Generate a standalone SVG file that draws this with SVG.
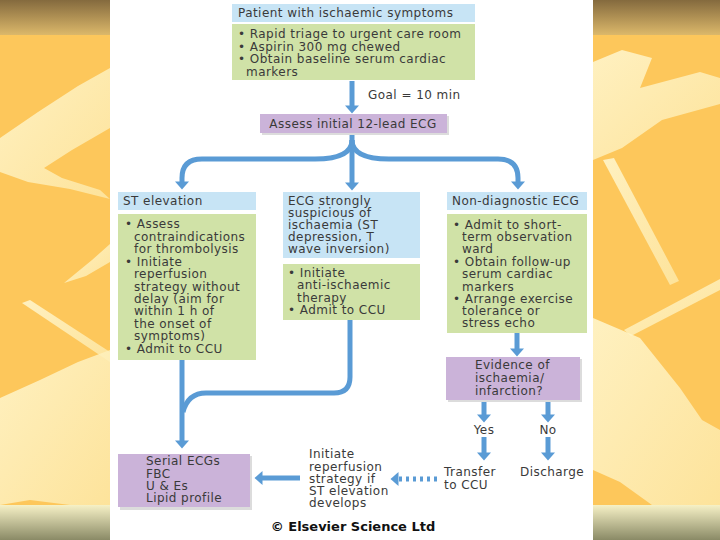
<svg xmlns="http://www.w3.org/2000/svg" width="720" height="540" viewBox="0 0 720 540">
<defs>
<linearGradient id="topBand" x1="0" y1="0" x2="0" y2="1"><stop offset="0" stop-color="#846a3e"/><stop offset="1" stop-color="#dcb86a"/></linearGradient>
<linearGradient id="botBand" x1="0" y1="0" x2="0" y2="1"><stop offset="0" stop-color="#f6f1c6"/><stop offset="1" stop-color="#8a8a66"/></linearGradient>
<linearGradient id="leaf" x1="0" y1="0" x2="1" y2="1"><stop offset="0" stop-color="#fff8d2"/><stop offset="1" stop-color="#fde8a6"/></linearGradient>
<marker id="ah" markerUnits="userSpaceOnUse" markerWidth="9" markerHeight="14" viewBox="0 0 8 14" refX="0.5" refY="7" orient="auto"><path d="M0,0 L8,7 L0,14 z" fill="#5a9bd5"/></marker>
<style>
.t{font-family:"DejaVu Sans",Verdana,sans-serif;font-size:12px;letter-spacing:0.45px;fill:#3a3a3a}
.c{text-anchor:middle}
.blue{fill:#c7e4f5}
.green{fill:#d0e2a7}
.purple{fill:#cbb3d9}
.shadow{fill:#dcdcdc}
.conn{fill:none;stroke:#5a9bd5;stroke-width:5}
.leafs{fill:url(#leaf);opacity:0.85}
</style>
</defs>
<rect x="0" y="0" width="720" height="540" fill="#fdc75b"/>
<g id="leaves">
<polygon class="leafs" points="110,68 78,86 38,112 0,138 0,172 28,182 70,189 110,199 100,190 62,178 44,168 72,150 110,128"/>
<polygon class="leafs" points="110,244 92,260 64,283 86,276 110,262"/>
<polygon class="leafs" points="22,303 30,300 110,352 110,362"/>
<polygon class="leafs" points="0,398 40,380 78,362 110,350 110,505 70,505 30,500 0,505"/>
<polygon class="leafs" points="593,62 622,50 652,58 640,88 700,72 720,78 720,104 662,120 622,148 593,160"/>
<polygon class="leafs" points="603,160 614,158 679,281 670,285"/>
<polygon class="leafs" points="624,330 720,279 720,290 631,336"/>
<polygon class="leafs" points="593,318 640,338 680,388 702,420 720,430 720,505 652,505 620,482 593,470"/>
</g>
<rect x="0" y="0" width="720" height="35" fill="url(#topBand)"/>
<rect x="0" y="505" width="720" height="35" fill="url(#botBand)"/>
<rect x="110" y="0" width="483" height="540" fill="#ffffff"/>

<g id="connectors">
<path class="conn" d="M352,81 L352,106" marker-end="url(#ah)"/>
<path class="conn" d="M352,133 L352,183" marker-end="url(#ah)"/>
<path class="conn" d="M352,140 C352,152 340,159 315,159 L202,159 Q182,159 182,178 L182,182" marker-end="url(#ah)"/>
<path class="conn" d="M352,140 C352,152 364,159 389,159 L498,159 Q518,159 518,178 L518,182" marker-end="url(#ah)"/>
<path class="conn" d="M182,360 L182,441" marker-end="url(#ah)"/>
<path class="conn" d="M350,320 L350,377 Q350,393 334,393 L206,393 Q188,393 183,412"/>
<path class="conn" d="M517,333 L517,349" marker-end="url(#ah)"/>
<path class="conn" d="M484,400 L484,415" marker-end="url(#ah)"/>
<path class="conn" d="M548,400 L548,415" marker-end="url(#ah)"/>
<path class="conn" d="M484,437 L484,453" marker-end="url(#ah)"/>
<path class="conn" d="M548,437 L548,453" marker-end="url(#ah)"/>
<path class="conn" d="M300,478 L262,478" marker-end="url(#ah)"/>
<path class="conn" d="M437,479 L398,479" stroke-dasharray="3 4" marker-end="url(#ah)"/>
</g>

<g id="n-patient">
<rect class="blue" x="232" y="4" width="243" height="18"/>
<text class="t" x="238" y="17">Patient with ischaemic symptoms</text>
</g>
<g id="n-triage">
<rect class="green" x="232" y="24" width="243" height="56"/>
<text class="t"><tspan x="238" y="38">• Rapid triage to urgent care room</tspan><tspan x="238" y="51">• Aspirin 300 mg chewed</tspan><tspan x="238" y="63">• Obtain baseline serum cardiac</tspan><tspan x="246" y="76">markers</tspan></text>
</g>
<g id="l-goal">
<text class="t" x="368" y="99">Goal = 10 min</text>
</g>
<g id="n-assess">
<rect class="shadow" x="262" y="116" width="187" height="19"/>
<rect class="purple" x="260" y="114" width="187" height="19"/>
<text class="t c" x="353" y="128">Assess initial 12-lead ECG</text>
</g>

<g id="n-st">
<rect class="blue" x="118" y="192" width="138" height="18"/>
<text class="t" x="123" y="205">ST elevation</text>
</g>
<g id="n-st-actions">
<rect class="green" x="118" y="214" width="138" height="146"/>
<text class="t"><tspan x="125" y="228">• Assess</tspan><tspan x="134" y="241">contraindications</tspan><tspan x="134" y="253">for thrombolysis</tspan><tspan x="125" y="266">• Initiate</tspan><tspan x="134" y="278">reperfusion</tspan><tspan x="134" y="291">strategy without</tspan><tspan x="134" y="303">delay (aim for</tspan><tspan x="134" y="315">within 1 h of</tspan><tspan x="134" y="328">the onset of</tspan><tspan x="134" y="340">symptoms)</tspan><tspan x="125" y="353">• Admit to CCU</tspan></text>
</g>

<g id="n-suspicious">
<rect class="blue" x="283" y="192" width="137" height="66"/>
<text class="t"><tspan x="288" y="205">ECG strongly</tspan><tspan x="288" y="217">suspicious of</tspan><tspan x="288" y="229">ischaemia (ST</tspan><tspan x="288" y="241">depression, T</tspan><tspan x="288" y="253">wave inversion)</tspan></text>
</g>
<g id="n-anti">
<rect class="green" x="283" y="264" width="137" height="56"/>
<text class="t"><tspan x="288" y="277">• Initiate</tspan><tspan x="297" y="289">anti-ischaemic</tspan><tspan x="297" y="302">therapy</tspan><tspan x="288" y="314">• Admit to CCU</tspan></text>
</g>

<g id="n-nondiag">
<rect class="blue" x="447" y="192" width="140" height="18"/>
<text class="t" x="452" y="205">Non-diagnostic ECG</text>
</g>
<g id="n-observe">
<rect class="green" x="447" y="214" width="140" height="119"/>
<text class="t"><tspan x="453" y="229">• Admit to short-</tspan><tspan x="462" y="241">term observation</tspan><tspan x="462" y="253">ward</tspan><tspan x="453" y="266">• Obtain follow-up</tspan><tspan x="462" y="278">serum cardiac</tspan><tspan x="462" y="291">markers</tspan><tspan x="453" y="303">• Arrange exercise</tspan><tspan x="462" y="315">tolerance or</tspan><tspan x="462" y="327">stress echo</tspan></text>
</g>

<g id="n-evidence">
<rect class="shadow" x="448" y="359" width="134" height="43"/>
<rect class="purple" x="446" y="357" width="134" height="43"/>
<text class="t"><tspan x="475" y="369">Evidence of</tspan><tspan x="475" y="382">ischaemia/</tspan><tspan x="475" y="395">infarction?</tspan></text>
</g>
<g id="l-yes"><text class="t c" x="484" y="434">Yes</text></g>
<g id="l-no"><text class="t c" x="548" y="434">No</text></g>
<g id="n-transfer">
<text class="t"><tspan x="444" y="476">Transfer</tspan><tspan x="444" y="489">to CCU</tspan></text>
</g>
<g id="n-discharge">
<text class="t" x="520" y="476">Discharge</text>
</g>
<g id="n-initiate">
<text class="t"><tspan x="309" y="458">Initiate</tspan><tspan x="309" y="471">reperfusion</tspan><tspan x="309" y="483">strategy if</tspan><tspan x="309" y="495">ST elevation</tspan><tspan x="309" y="507">develops</tspan></text>
</g>
<g id="n-serial">
<rect class="shadow" x="120" y="456" width="132" height="54"/>
<rect class="purple" x="118" y="454" width="132" height="53"/>
<text class="t"><tspan x="146" y="465">Serial ECGs</tspan><tspan x="146" y="478">FBC</tspan><tspan x="146" y="490">U &amp; Es</tspan><tspan x="146" y="502">Lipid profile</tspan></text>
</g>
<g id="copyright">
<text x="353" y="531" text-anchor="middle" style="font-family:'DejaVu Sans',Verdana,sans-serif;font-size:13px;font-weight:bold;fill:#111">© Elsevier Science Ltd</text>
</g>
</svg>
